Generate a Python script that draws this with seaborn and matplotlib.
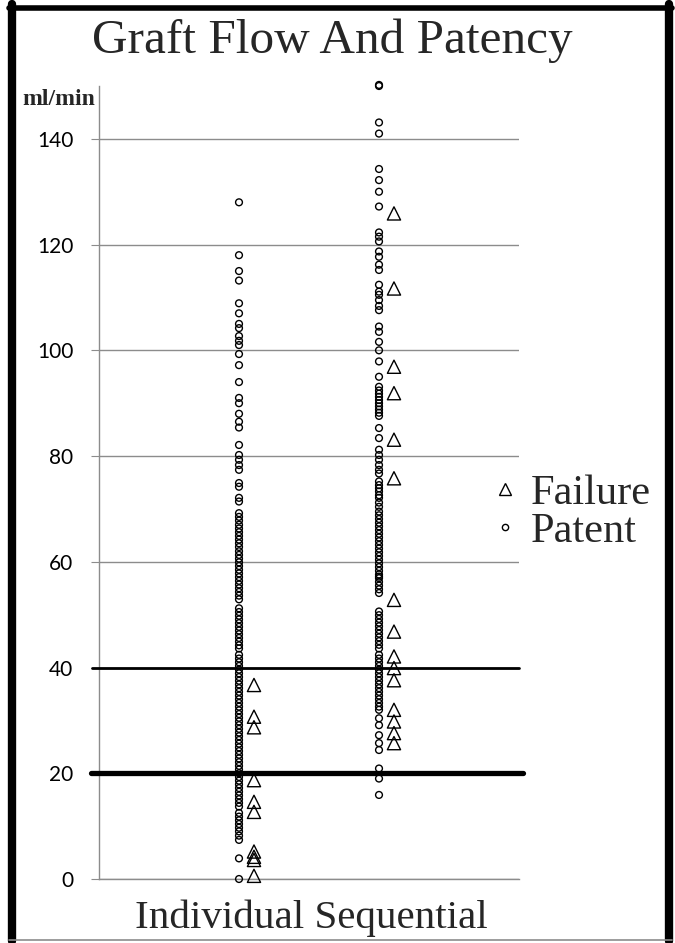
import matplotlib
matplotlib.use("Agg")
import matplotlib.pyplot as plt
import seaborn as sns
import pandas as pd
from matplotlib.lines import Line2D

# ---------------- data (ml/min) ----------------
groups = ["Individual", "Sequential"]
statuses = ["Failure", "Patent"]

ind_patent = [128, 118, 115, 113.2, 108.9, 107, 105, 104.2, 102.7, 101.8, 101.0,
              99.3, 97.2, 94, 91, 90, 88, 86.5, 85.4, 82.1, 80.2, 79.3, 78.3, 77.4,
              74.9, 74.2, 72.1, 71.4,
              69.2, 68.5, 67.8, 67.0, 66.3, 65.6, 64.9, 64.2, 63.5, 62.8, 62.0, 61.3,
              60.6, 59.9, 59.2, 58.5, 57.8, 57.1, 56.4, 55.7, 55.0, 54.3, 53.6, 52.9,
              51.2, 50.5, 49.8, 49.1, 48.4, 47.7, 47.0, 46.3, 45.6, 44.9, 44.2, 43.6,
              42.4, 41.7, 41.0, 40.3, 39.6, 38.9, 38.2, 37.5, 36.8, 36.1, 35.4, 34.7,
              34.0, 33.3, 32.6, 31.9, 31.2, 30.5, 29.8, 29.1, 28.4, 27.7, 27.0, 26.3,
              25.6, 24.9, 24.2, 23.5, 22.8, 22.1, 21.4, 20.7, 20.0, 19.3, 18.6, 17.9,
              17.2, 16.5, 15.8, 15.1, 14.4, 13.7,
              12.5, 11.8, 11.1, 10.4, 9.7, 9.0, 8.2, 7.4, 3.9, 0.0]
ind_failure = [36.7, 30.7, 28.7, 18.7, 14.6, 12.7, 5.2, 4.2, 3.6, 0.6]

seq_patent = [150.2, 150.0, 143.1, 141.0, 134.3, 132.2, 130.0, 127.2, 122.3, 121.5,
              120.6, 118.7, 117.7, 116.2, 115.2, 112.4, 111.1, 110.5, 109.5, 108.4,
              107.6, 104.5, 103.5, 101.6, 100.0, 97.9, 95.0, 93.1, 92.4, 91.8, 91.2,
              90.6, 90.0, 89.4, 88.8, 88.2, 87.6, 85.3, 83.4, 81.2, 80.2, 79.3, 78.3,
              77.4, 76.7, 75.2, 74.5, 73.9, 73.3, 72.6, 72.1, 71.2, 70.4,
              69.5, 68.8, 68.1, 67.4, 66.7, 66.0, 65.3, 64.6, 63.9, 63.2, 62.5, 61.8,
              61.1, 60.4, 59.7, 59.0, 58.3, 57.6, 57.2, 56.9, 56.2, 55.5, 54.8, 54.1,
              50.6, 49.9, 49.2, 48.5, 47.8, 47.1, 46.4, 45.7, 45.0, 44.3, 43.6,
              42.4, 41.7, 41.0, 40.3, 39.6, 38.9, 38.2, 37.5, 36.8, 36.1, 35.4, 34.7,
              34.0, 33.3, 32.6, 32.0,
              30.4, 29.1, 27.2, 25.7, 24.4, 20.9, 19.0, 15.9]
seq_failure = [125.9, 111.7, 96.9, 91.9, 83.1, 75.8, 52.8, 46.8, 42.1, 39.9, 37.6,
               32.0, 29.8, 27.6, 25.7]

y_ticks = [0, 20, 40, 60, 80, 100, 120, 140]
threshold_lines = [20, 40]

# ---------------- table ----------------
series = {("Individual", "Patent"): ind_patent,
          ("Individual", "Failure"): ind_failure,
          ("Sequential", "Patent"): seq_patent,
          ("Sequential", "Failure"): seq_failure}
rows = []
for (g, st), vals in series.items():
    for v in vals:
        rows.append({"group": g, "status": st, "flow": v})
df = pd.DataFrame(rows)

group_pos = {"Individual": 1.0, "Sequential": 2.0}
status_off = {"Patent": 0.0, "Failure": 0.107}
df["xpos"] = df["group"].map(group_pos) + df["status"].map(status_off)

# ---------------- figure ----------------
sns.set_theme(style="white")
plt.rcParams["font.family"] = ["DejaVu Sans"]

W, H = 675, 943
fig = plt.figure(figsize=(W / 100, H / 100), dpi=100)
fig.patch.set_facecolor("white")


def fx(px):
    return px / W


def fy(py):
    return 1 - py / H


ax = fig.add_axes([fx(99), fy(879), fx(519) - fx(99), fy(86) - fy(879)])

pat = df[df["status"] == "Patent"]
fail = df[df["status"] == "Failure"]
sns.scatterplot(data=pat, x="xpos", y="flow", marker="o", s=24,
                facecolor="none", edgecolor="black", linewidth=1.0,
                ax=ax, legend=False, zorder=3, clip_on=False)
sns.scatterplot(data=fail, x="xpos", y="flow", marker="^", s=90,
                facecolor="none", edgecolor="black", linewidth=1.0,
                ax=ax, legend=False, zorder=3, clip_on=False)

ax.set_xlim(0, 3)
ax.set_ylim(0, 150)
ax.set_xticks([])
ax.set_yticks(y_ticks)
ax.set_yticklabels([str(t) for t in y_ticks], family=["Lato", "DejaVu Sans"])
ax.set_xlabel("")
ax.set_ylabel("")
ax.yaxis.grid(True, color="#8c8c8c", linewidth=1.0, zorder=0)
ax.xaxis.grid(False)
ax.set_axisbelow(True)
ax.tick_params(axis="y", which="major", left=True, length=5.5, width=0.8,
               color="#8c8c8c", pad=13, labelsize=15, labelcolor="black")
for side in ["top", "right"]:
    ax.spines[side].set_visible(False)
for side in ["left", "bottom"]:
    ax.spines[side].set_color("#8c8c8c")
    ax.spines[side].set_linewidth(1.0)

# thick threshold lines
ax.plot([-0.05, 3.0], [threshold_lines[1]] * 2, color="black", lw=2.0,
        solid_capstyle="round", clip_on=False, zorder=5)
ax.plot([-0.058, 3.03], [threshold_lines[0]] * 2, color="black", lw=3.8,
        solid_capstyle="round", clip_on=False, zorder=5)

# texts
serif = ["Liberation Serif", "DejaVu Serif"]
fig.text(fx(332), fy(53), "Graft Flow And Patency", family=serif, fontsize=35.5,
         ha="center", va="baseline")
fig.text(fx(22), fy(105), "ml/min", family=serif, fontsize=17,
         fontweight="bold", ha="left", va="baseline")
fig.text(fx(311), fy(928), "Individual Sequential", family=serif, fontsize=29.5,
         ha="center", va="baseline")

# legend
handles = [Line2D([], [], marker="^", ls="", markersize=8, markerfacecolor="none",
                  markeredgecolor="black", markeredgewidth=1.0),
           Line2D([], [], marker="o", ls="", markersize=4.5, markerfacecolor="none",
                  markeredgecolor="black", markeredgewidth=1.0)]
fig.legend(handles, statuses, loc="upper left",
           bbox_to_anchor=(fx(493), fy(474)), frameon=False,
           prop={"family": serif, "size": 30.5}, handlelength=0.55,
           handletextpad=0.35, labelspacing=0.0, borderpad=0, borderaxespad=0)

# outer frame
fig.add_artist(Line2D([fx(12), fx(12)], [fy(4), fy(941)], color="black", lw=6,
                      transform=fig.transFigure))
fig.add_artist(Line2D([fx(669), fx(669)], [fy(4), fy(941)], color="black", lw=6,
                      transform=fig.transFigure))
fig.add_artist(Line2D([fx(9), fx(672)], [fy(7.5), fy(7.5)], color="black", lw=4,
                      transform=fig.transFigure))
fig.add_artist(Line2D([fx(9), fx(672)], [fy(940), fy(940)], color="#8c8c8c", lw=1.2,
                      transform=fig.transFigure))

fig.savefig("out.png", dpi=100, facecolor="white")
